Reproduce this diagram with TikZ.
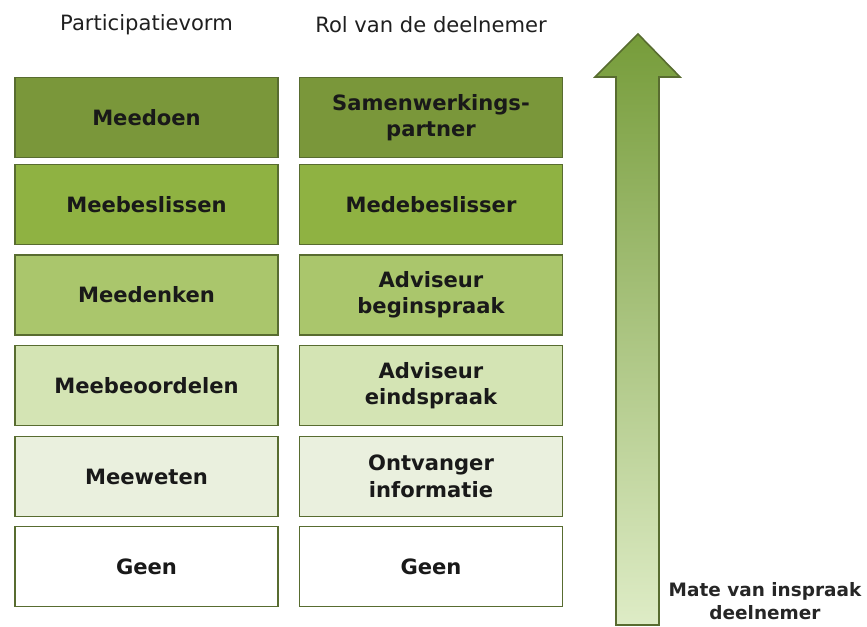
\documentclass[tikz,border=0pt]{standalone}
\usepackage{fontspec}
\setmainfont{DejaVu Sans}
\usepackage{xcolor}

\definecolor{lineolive}{RGB}{88,108,48}
\definecolor{tierA}{RGB}{122,151,58}
\definecolor{tierB}{RGB}{143,178,66}
\definecolor{tierC}{RGB}{170,198,108}
\definecolor{tierD}{RGB}{212,228,180}
\definecolor{tierE}{RGB}{234,240,222}
\definecolor{arrowtop}{RGB}{118,156,58}
\definecolor{arrowbot}{RGB}{222,236,198}

\begin{document}
\begin{tikzpicture}[
  tier/.style={draw=lineolive, line width=1.1pt, minimum width=5.26cm,
    minimum height=1.6cm, align=center, inner sep=2pt,
    font=\fontsize{12}{15}\selectfont\bfseries, text=black!90},
  colhead/.style={font=\fontsize{12}{14}\selectfont, text=black!88},
  scalelabel/.style={align=center, font=\fontsize{10.5}{13.5}\selectfont\bfseries, text=black!85}
]
\useasboundingbox (0,0) rectangle (17.34,12.54);

% headers:
\node[colhead] (hvorm) at (2.93,12.05) {Participatievorm};
\node[colhead] (hrol) at (8.62,12.05) {Rol van de deelnemer};

% top tier:
\node[tier, fill=tierA] (vorm1) at (2.93,10.19) {Meedoen};
\node[tier, fill=tierA] (rol1) at (8.62,10.19) {Samenwerkings-\\partner};

% 2nd tier:
\node[tier, fill=tierB] (vorm2) at (2.93,8.45) {Meebeslissen};
\node[tier, fill=tierB] (rol2) at (8.62,8.45) {Medebeslisser};

% 3rd tier:
\node[tier, fill=tierC] (vorm3) at (2.93,6.64) {Meedenken};
\node[tier, fill=tierC] (rol3) at (8.62,6.64) {Adviseur\\beginspraak};

% 4th tier:
\node[tier, fill=tierD] (vorm4) at (2.93,4.83) {Meebeoordelen};
\node[tier, fill=tierD] (rol4) at (8.62,4.83) {Adviseur\\eindspraak};

% 5th tier:
\node[tier, fill=tierE] (vorm5) at (2.93,3.01) {Meeweten};
\node[tier, fill=tierE] (rol5) at (8.62,3.01) {Ontvanger\\informatie};

% bottom tier:
\node[tier, fill=white] (vorm6) at (2.93,1.21) {Geen};
\node[tier, fill=white] (rol6) at (8.62,1.21) {Geen};

% big arrow:
\draw[lineolive, line width=0.9pt, top color=arrowtop, bottom color=arrowbot]
  (12.32,0.04) -- (12.32,11.0) -- (11.9,11.0) -- (12.76,11.86)
  -- (13.6,11.0) -- (13.18,11.0) -- (13.18,0.04) -- cycle;

\node[scalelabel] (inspraak) at (15.3,0.52) {Mate van inspraak\\deelnemer};

\end{tikzpicture}
\end{document}
